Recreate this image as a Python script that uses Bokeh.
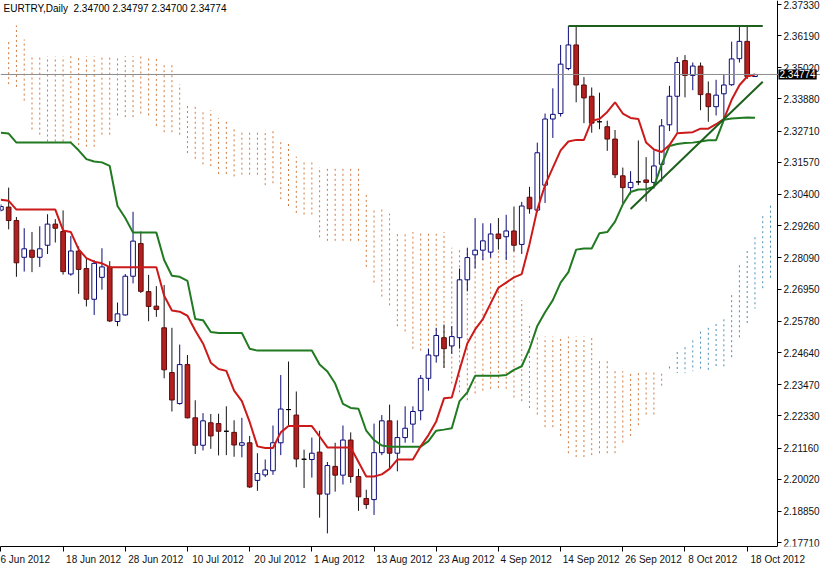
import pandas as pd
from bokeh.plotting import figure
from bokeh.models import ColumnDataSource, FixedTicker, Range1d, Label, Span, LinearAxis
from bokeh.embed import file_html
from bokeh.resources import INLINE

symbol_title = "EURTRY,Daily\u00a0\u00a02.34700 2.34797 2.34700 2.34774"
last_price = 2.34774

opens = [2.2983, 2.2994, 2.2945, 2.2811, 2.2837, 2.2811, 2.2855, 2.2932, 2.2905, 2.2750,
         2.2834, 2.2770, 2.2658, 2.2738, 2.2775, 2.2577, 2.2601, 2.2742, 2.2861, 2.2686,
         2.2633, 2.2554, 2.2391, 2.2278, 2.2420, 2.2226, 2.2126, 2.2208, 2.2205, 2.2177,
         2.2173, 2.2126, 2.2135, 2.1998, 2.2018, 2.2033, 2.2135, 2.2256, 2.2236, 2.2075,
         2.2074, 2.2101, 2.1948, 2.2049, 2.2017, 2.2145, 2.2012, 2.1932, 2.1928, 2.2099,
         2.2215, 2.2097, 2.2154, 2.2203, 2.2252, 2.2370, 2.2452, 2.2518, 2.2488, 2.2518,
         2.2729, 2.2820, 2.2837, 2.2830, 2.2896, 2.2886, 2.2907, 2.2858, 2.3030, 2.2983,
         2.3074, 2.3315, 2.3335, 2.3499, 2.3585, 2.3439, 2.3398, 2.3305, 2.3287, 2.3242,
         2.3108, 2.3065, 2.3086, 2.3093, 2.3084, 2.3150, 2.3294, 2.3398, 2.3528, 2.3474,
         2.3508, 2.3407, 2.3360, 2.3407, 2.3440, 2.3535, 2.3598, 2.34700]
highs = [2.3004, 2.3065, 2.2958, 2.2917, 2.2903, 2.2924, 2.2968, 2.2950, 2.2982, 2.2889,
         2.2851, 2.2808, 2.2801, 2.2844, 2.2797, 2.2646, 2.2750, 2.2977, 2.2905, 2.2747,
         2.2706, 2.2710, 2.2554, 2.2493, 2.2455, 2.2290, 2.2243, 2.2240, 2.2241, 2.2268,
         2.2217, 2.2226, 2.2160, 2.2097, 2.2074, 2.2198, 2.2382, 2.2431, 2.2322, 2.2110,
         2.2154, 2.2179, 2.2065, 2.2135, 2.2198, 2.2173, 2.2040, 2.1964, 2.2205, 2.2236,
         2.2274, 2.2217, 2.2268, 2.2268, 2.2382, 2.2478, 2.2554, 2.2566, 2.2560, 2.2770,
         2.2846, 2.2954, 2.2935, 2.2935, 2.2954, 2.2966, 2.2996, 2.3013, 2.3068, 2.3229,
         2.3335, 2.3427, 2.3585, 2.3654, 2.3654, 2.3468, 2.3430, 2.3411, 2.3309, 2.3275,
         2.3138, 2.3125, 2.3237, 2.3176, 2.3201, 2.3315, 2.3436, 2.3541, 2.3548, 2.3521,
         2.3521, 2.3452, 2.3458, 2.3478, 2.3597, 2.3654, 2.3654, 2.34797]
lows = [2.2978, 2.2913, 2.2740, 2.2759, 2.2757, 2.2776, 2.2823, 2.2865, 2.2748, 2.2744,
        2.2678, 2.2632, 2.2601, 2.2693, 2.2575, 2.2560, 2.2598, 2.2716, 2.2681, 2.2578,
        2.2594, 2.2370, 2.2249, 2.2274, 2.2224, 2.2094, 2.2107, 2.2113, 2.2089, 2.2090,
        2.2084, 2.2082, 2.1970, 2.1960, 2.2010, 2.2018, 2.2090, 2.2198, 2.2046, 2.1970,
        2.2008, 2.1862, 2.1805, 2.1957, 2.1983, 2.1989, 2.1887, 2.1894, 2.1872, 2.2090,
        2.2040, 2.2031, 2.2135, 2.2135, 2.2217, 2.2325, 2.2427, 2.2408, 2.2459, 2.2478,
        2.2687, 2.2770, 2.2801, 2.2810, 2.2839, 2.2801, 2.2833, 2.2823, 2.2970, 2.2975,
        2.3009, 2.3246, 2.3324, 2.3493, 2.3376, 2.3300, 2.3265, 2.3278, 2.3199, 2.3100,
        2.3009, 2.3040, 2.3074, 2.3014, 2.3061, 2.3087, 2.3271, 2.3265, 2.3394, 2.3420,
        2.3347, 2.3305, 2.3328, 2.3309, 2.3436, 2.3521, 2.3461, 2.34700]
closes = [2.2996, 2.2945, 2.2791, 2.2842, 2.2811, 2.2842, 2.2932, 2.2917, 2.2759, 2.2834,
          2.2767, 2.2658, 2.2789, 2.2776, 2.2579, 2.2605, 2.2742, 2.2870, 2.2687, 2.2632,
          2.2621, 2.2401, 2.2291, 2.2420, 2.2226, 2.2126, 2.2215, 2.2160, 2.2177, 2.2177,
          2.2127, 2.2135, 2.1974, 2.2023, 2.2036, 2.2135, 2.2258, 2.2256, 2.2076, 2.2075,
          2.2097, 2.1948, 2.2052, 2.2017, 2.2145, 2.2012, 2.1938, 2.1910, 2.2099, 2.2215,
          2.2097, 2.2154, 2.2188, 2.2249, 2.2370, 2.2455, 2.2526, 2.2478, 2.2522, 2.2729,
          2.2810, 2.2837, 2.2871, 2.2896, 2.2879, 2.2907, 2.2855, 2.2998, 2.2988, 2.3192,
          2.3315, 2.3332, 2.3515, 2.3585, 2.3439, 2.3392, 2.3300, 2.3305, 2.3242, 2.3112,
          2.3065, 2.3084, 2.3086, 2.3084, 2.3144, 2.3290, 2.3398, 2.3521, 2.3474, 2.3508,
          2.3404, 2.3360, 2.3402, 2.3439, 2.3534, 2.3598, 2.3470, 2.34774]

tenkan_sen = [2.3021, 2.3017, 2.2985, 2.2985, 2.2985, 2.2985, 2.2985, 2.2985, 2.2909, 2.2903,
              2.2840, 2.2808, 2.2795, 2.2789, 2.2775, 2.2775, 2.2775, 2.2775, 2.2775, 2.2775,
              2.2775, 2.2671, 2.2617, 2.2613, 2.2598, 2.2544, 2.2497, 2.2427, 2.2404, 2.2397,
              2.2325, 2.2287, 2.2211, 2.2122, 2.2116, 2.2116, 2.2173, 2.2196, 2.2196, 2.2196,
              2.2196, 2.2158, 2.2118, 2.2118, 2.2118, 2.2118, 2.2065, 2.2012, 2.2012, 2.2020,
              2.2040, 2.2074, 2.2074, 2.2074, 2.2122, 2.2163, 2.2213, 2.2297, 2.2300, 2.2401,
              2.2497, 2.2548, 2.2586, 2.2643, 2.2700, 2.2719, 2.2738, 2.2750, 2.2859, 2.2985,
              2.3074, 2.3138, 2.3201, 2.3233, 2.3239, 2.3239, 2.3309, 2.3315, 2.3341, 2.3376,
              2.3335, 2.3319, 2.3315, 2.3229, 2.3204, 2.3195, 2.3220, 2.3263, 2.3265, 2.3267,
              2.3280, 2.3280, 2.3296, 2.3315, 2.3385, 2.3438, 2.3470, 2.3477]
kijun_sen = [2.3265, 2.3262, 2.3229, 2.3229, 2.3229, 2.3229, 2.3229, 2.3229, 2.3229, 2.3229,
             2.3201, 2.3169, 2.3160, 2.3157, 2.3144, 2.2998, 2.2954, 2.2901, 2.2901, 2.2901,
             2.2901, 2.2801, 2.2744, 2.2740, 2.2725, 2.2586, 2.2582, 2.2539, 2.2535, 2.2535,
             2.2535, 2.2535, 2.2478, 2.2471, 2.2471, 2.2471, 2.2471, 2.2471, 2.2471, 2.2471,
             2.2471, 2.2420, 2.2395, 2.2351, 2.2277, 2.2262, 2.2259, 2.2179, 2.2145, 2.2125,
             2.2121, 2.2121, 2.2121, 2.2121, 2.2121, 2.2141, 2.2179, 2.2183, 2.2188, 2.2287,
             2.2319, 2.2379, 2.2379, 2.2379, 2.2379, 2.2382, 2.2401, 2.2414, 2.2477, 2.2561,
             2.2611, 2.2655, 2.2719, 2.2757, 2.2839, 2.2843, 2.2843, 2.2899, 2.2903, 2.2941,
             2.3004, 2.3049, 2.3058, 2.3059, 2.3068, 2.3150, 2.3217, 2.3224, 2.3228, 2.3229,
             2.3233, 2.3238, 2.3238, 2.3312, 2.3317, 2.3319, 2.3321, 2.3320]

# Senkou spans (already shifted 26 bars forward), bar numbers 1..99
cloud_bar = list(range(1, 100))
senkou_a = [2.3442, 2.3432, 2.3382, 2.3277, 2.3258, 2.3233, 2.3233, 2.3233, 2.3227, 2.3220,
            2.3214, 2.3214, 2.3258, 2.3258, 2.3328, 2.3322, 2.3322, 2.3335, 2.3328, 2.3290,
            2.3267, 2.3267, 2.3258, 2.3191, 2.3170, 2.3150, 2.3144, 2.3115, 2.3115, 2.3106,
            2.3112, 2.3112, 2.3112, 2.3074, 2.3081, 2.3023, 2.2998, 2.2973, 2.2967, 2.2967,
            2.2884, 2.2871, 2.2871, 2.2871, 2.2871, 2.2871, 2.2776, 2.2719, 2.2668, 2.2636,
            2.2560, 2.2541, 2.2478, 2.2471, 2.2452, 2.2452, 2.2408, 2.2351, 2.2319, 2.2290,
            2.2315, 2.2325, 2.2332, 2.2335, 2.2332, 2.2300, 2.2287, 2.2262, 2.2238, 2.2192,
            2.2192, 2.2160, 2.2097, 2.2083, 2.2083, 2.2090, 2.2097, 2.2097, 2.2097, 2.2136,
            2.2160, 2.2199, 2.2238, 2.2238, 2.2343, 2.2413, 2.2466, 2.2483, 2.2508, 2.2540,
            2.2554, 2.2568, 2.2585, 2.2673, 2.2782, 2.2834, 2.2884, 2.2961, 2.2999]
senkou_b = [2.3597, 2.3656, 2.3605, 2.3544, 2.3544, 2.3544, 2.3544, 2.3544, 2.3544, 2.3544,
            2.3544, 2.3544, 2.3544, 2.3544, 2.3544, 2.3544, 2.3544, 2.3544, 2.3544, 2.3534,
            2.3512, 2.3512, 2.3442, 2.3373, 2.3369, 2.3347, 2.3347, 2.3318, 2.3315, 2.3284,
            2.3275, 2.3275, 2.3275, 2.3275, 2.3275, 2.3242, 2.3224, 2.3178, 2.3157, 2.3157,
            2.3140, 2.3140, 2.3140, 2.3140, 2.3140, 2.3140, 2.3043, 2.2985, 2.2985, 2.2970,
            2.2903, 2.2903, 2.2903, 2.2903, 2.2903, 2.2903, 2.2903, 2.2846, 2.2839, 2.2839,
            2.2839, 2.2839, 2.2839, 2.2839, 2.2839, 2.2839, 2.2655, 2.2568, 2.2522, 2.2522,
            2.2522, 2.2522, 2.2522, 2.2522, 2.2522, 2.2522, 2.2434, 2.2434, 2.2396, 2.2396,
            2.2396, 2.2396, 2.2396, 2.2396, 2.2396, 2.2396, 2.2389, 2.2389, 2.2396, 2.2396,
            2.2396, 2.2410, 2.2410, 2.2441, 2.2515, 2.2568, 2.2624, 2.2694, 2.2733]

# hand-drawn trend lines (bar number, price)
resistance_bars = [73, 98]
resistance_prices = [2.3654, 2.3654]
support_bars = [81, 98]
support_prices = [2.2987, 2.3451]

x_tick_labels = ["6 Jun 2012", "18 Jun 2012", "28 Jun 2012", "10 Jul 2012", "20 Jul 2012",
                 "1 Aug 2012", "13 Aug 2012", "23 Aug 2012", "4 Sep 2012", "14 Sep 2012",
                 "26 Sep 2012", "8 Oct 2012", "18 Oct 2012"]
price_ticks = [2.17710, 2.18850, 2.20020, 2.21160, 2.22330, 2.23470, 2.24640, 2.25780,
               2.26950, 2.28090, 2.29260, 2.30400, 2.31570, 2.32710, 2.33880, 2.35020,
               2.36190, 2.37330]

# ---------------------------------------------------------------------------
n = len(opens)
bars = list(range(n))
dates = pd.bdate_range("2012-06-06", periods=n)
date_text = [f"{d.day} {d.strftime('%b %Y')}" for d in dates]
tick_pos = [date_text.index(t) for t in x_tick_labels]

FONT = "Liberation Sans"
BULL_LINE = "#0b0b78"
BEAR_FILL = "#b42020"
BEAR_LINE = "#5a0c0c"

X_START = -0.05      # left edge of the chart (bar units)
AXIS_X = 99.9        # where the price scale sits (MT4 style)
X_END = 105.43       # room for the price labels to the right of the scale

body_top = [max(o, c) for o, c in zip(opens, closes)]
body_bot = [min(o, c) for o, c in zip(opens, closes)]
fill, line, wick = [], [], []
for o, c in zip(opens, closes):
    if c > o:
        fill.append("white"); line.append(BULL_LINE); wick.append(BULL_LINE)
    elif c < o:
        fill.append(BEAR_FILL); line.append(BEAR_LINE); wick.append("#141414")
    else:
        fill.append("black"); line.append("black"); wick.append("#141414")

candles = ColumnDataSource(dict(x=bars, high=highs, low=lows, top=body_top, bottom=body_bot,
                                fill=fill, line=line, wick=wick, date=date_text))

cloud_col = ["#4a8fb5" if a > b else "#d07a40" for a, b in zip(senkou_a, senkou_b)]
cloud = ColumnDataSource(dict(x=cloud_bar, a=senkou_a, b=senkou_b, c=cloud_col))

p = figure(width=820, height=567, x_range=Range1d(X_START, X_END),
           y_range=Range1d(2.1757, 2.3747),
           y_axis_location=None, output_backend="svg", toolbar_location=None,
           min_border_left=0, min_border_top=0, min_border_right=0, min_border_bottom=0,
           background_fill_color="white", border_fill_color="white")
p.outline_line_color = None
p.grid.visible = False

# Kumo as dotted vertical hatching
p.segment(x0="x", y0="a", x1="x", y1="b", source=cloud, line_color="c", line_width=1,
          line_dash="2 3")

# current price line
p.add_layout(Span(location=last_price, dimension="width", line_color="#8c8c8c", line_width=1))

# candles
p.segment(x0="x", y0="high", x1="x", y1="low", source=candles, line_color="wick", line_width=1)
p.vbar(x="x", top="top", bottom="bottom", width=0.6, source=candles, fill_color="fill",
       line_color="line", line_width=1)

# Ichimoku lines
p.line(bars, kijun_sen, line_color="#217a21", line_width=2)
p.line(bars, tenkan_sen, line_color="#cc1a1a", line_width=2)

# trend lines
p.line(resistance_bars, resistance_prices, line_color="#1d5f1d", line_width=2)
p.line(support_bars, support_prices, line_color="#1d5f1d", line_width=2)

# price scale (right side, MT4 style)
yax = LinearAxis(fixed_location=AXIS_X)
yax.ticker = FixedTicker(ticks=price_ticks)
yax.major_label_overrides = {t: f"{t:.5f}" for t in price_ticks}
yax.minor_tick_line_color = None
yax.major_tick_in = 0
yax.major_tick_out = 4
yax.major_label_standoff = 2
yax.major_label_text_font = FONT
yax.major_label_text_font_size = "10px"
yax.major_label_text_color = "#111111"
yax.axis_line_color = "black"
p.add_layout(yax, "right")

# time scale: labels start just right of their tick (MT4 style)
def left_anchored(pos, t):
    if pos - X_START < 1:          # edge label: Bokeh keeps it inside the canvas by itself
        return t
    pad = 2 * len(t.replace(" ", "")) + t.count(" ") + 2
    return "\u00a0" * pad + t

xax = p.xaxis[0]
xax.ticker = FixedTicker(ticks=tick_pos)
xax.major_label_overrides = {pos: left_anchored(pos, lab) for pos, lab in zip(tick_pos, x_tick_labels)}
xax.bounds = (X_START, AXIS_X)
xax.minor_tick_line_color = None
xax.major_tick_in = 0
xax.major_tick_out = 5
xax.major_label_standoff = 2
xax.major_label_text_font = FONT
xax.major_label_text_font_size = "10px"
xax.major_label_text_color = "#111111"
xax.axis_line_color = "black"

p.add_layout(Label(x=X_START, y=2.3747, x_offset=3, y_offset=-2, text=symbol_title,
                   text_font=FONT, text_font_size="10px", text_color="black",
                   text_baseline="top", text_align="left"))
price_box = Label(x=AXIS_X, y=last_price, x_offset=1, text=f"{last_price:.5f}",
                  text_font=FONT, text_font_size="10px", text_color="white",
                  background_fill_color="black", text_baseline="middle", text_align="left")
try:
    price_box.padding = 1
except Exception:
    pass
p.add_layout(price_box)

open("out.html", "w").write(file_html(p, INLINE))
